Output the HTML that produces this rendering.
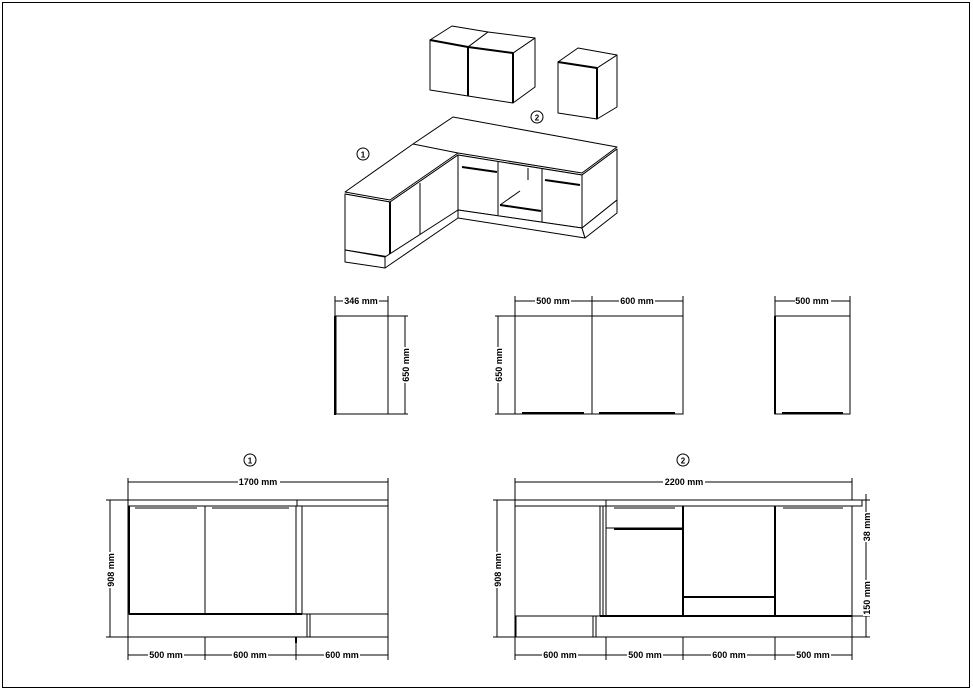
<!DOCTYPE html>
<html><head><meta charset="utf-8"><style>
html,body{margin:0;padding:0;background:#fff;}
svg{display:block;}
text{font-family:"Liberation Sans",sans-serif;font-size:9px;font-weight:bold;fill:#000;}
</style></head><body>
<svg width="973" height="692" viewBox="0 0 973 692" xmlns="http://www.w3.org/2000/svg">
<rect x="2.5" y="2.5" width="967" height="685" fill="none" stroke="#000" stroke-width="1"/>
<g fill="none" stroke="#000" stroke-width="1" stroke-linejoin="round">
<!-- upper pair -->
<polygon points="430,40 468,47 468,96 430,90" fill="#fff"/>
<polygon points="468,47 513,53 513,103 468,96" fill="#fff"/>
<polygon points="513,53 535,38 535,87 513,103" fill="#fff"/>
<polygon points="430,40 452,26 488,32 468,47" fill="#fff"/>
<polygon points="468,47 488,32 535,38 513,53" fill="#fff"/>
<line x1="430" y1="40" x2="468" y2="47" stroke-width="2"/>
<line x1="468" y1="47" x2="513" y2="53" stroke-width="2"/>
<line x1="468" y1="47" x2="468" y2="96" stroke-width="2"/>
<line x1="513" y1="53" x2="513" y2="103" stroke-width="2"/>
<!-- single upper -->
<polygon points="558,62 597,68 597,119 558,113" fill="#fff"/>
<polygon points="597,68 617,55 617,107 597,119" fill="#fff"/>
<polygon points="558,62 578,48 617,55 597,68" fill="#fff"/>
<line x1="558" y1="62" x2="597" y2="68" stroke-width="2"/>
<line x1="597" y1="68" x2="597" y2="119" stroke-width="2"/>
<!-- L counter -->
<polygon points="345,192 413,144 453,117 617,147 582,173 458,153 390,200" fill="#fff"/>
<line x1="413" y1="144" x2="458" y2="153"/>
<line x1="345" y1="194" x2="390" y2="202"/>
<line x1="390" y1="202" x2="458" y2="155"/>
<line x1="458" y1="155" x2="582" y2="175"/>
<line x1="582" y1="175" x2="617" y2="149"/>
<polygon points="345,194 390,202 390,257 345,250" fill="#fff"/>
<polygon points="345,250 385,257 385,268 345,262" fill="#fff"/>
<polygon points="390,202 458,155 458,210 390,257" fill="#fff"/>
<line x1="420" y1="183" x2="420" y2="236"/>
<line x1="390" y1="202" x2="390" y2="257" stroke-width="2"/>
<polygon points="385,257 458,210 458,218 385,268" fill="#fff"/>
<polygon points="458,155 582,175 582,228 458,210" fill="#fff"/>
<line x1="498" y1="162" x2="498" y2="215"/>
<line x1="542" y1="169" x2="542" y2="222"/>
<line x1="462" y1="167" x2="497" y2="172" stroke-width="2"/>
<line x1="545" y1="180" x2="580" y2="185" stroke-width="2"/>
<line x1="500" y1="205" x2="541" y2="211" stroke-width="2"/>
<line x1="500" y1="205" x2="520" y2="191"/>
<line x1="528" y1="168" x2="528" y2="180"/>
<polygon points="458,210 582,228 585,238 458,218" fill="#fff"/>
<polygon points="582,175 617,149 617,200 582,228" fill="#fff"/>
<polygon points="582,228 617,200 617,213 585,238" fill="#fff"/>
</g>
<!-- circles -->
<g fill="none" stroke="#000"><circle cx="363" cy="154" r="6"/><circle cx="537" cy="117" r="6"/><circle cx="250" cy="460" r="6"/><circle cx="683" cy="460" r="6"/></g>
<g font-size="8"><text x="363" y="157.5" text-anchor="middle" style="font-size:8px">1</text><text x="537" y="120.5" text-anchor="middle" style="font-size:8px">2</text><text x="250" y="463.5" text-anchor="middle" style="font-size:8px">1</text><text x="683" y="463.5" text-anchor="middle" style="font-size:8px">2</text></g>

<g fill="none" stroke="#000" stroke-width="1">
<!-- top elevation 1 -->
<path d="M335,296V316M388,296V316M335,301H388"/>
<rect x="336" y="316" width="52" height="98"/>
<line x1="335" y1="316" x2="335" y2="415" stroke-width="2"/>
<path d="M388,316H408M388,414H408M405,316V414"/>
<!-- top elevation 2 -->
<path d="M515,296V316M592,296V316M683,296V316M515,301H683"/>
<rect x="515" y="316" width="168" height="98"/>
<line x1="592" y1="316" x2="592" y2="414"/>
<path d="M495,316H515M495,414H515M498,316V414"/>
<path d="M522,413H584M599,413H675" stroke-width="2"/>
<!-- top elevation 3 -->
<path d="M775,296V316M850,296V316M775,301H850"/>
<rect x="775" y="316" width="75" height="98"/>
<line x1="775" y1="316" x2="775" y2="414" stroke-width="2"/>
<path d="M782,413H843" stroke-width="2"/>

<!-- bottom 1 -->
<path d="M128,478V500M388,478V500M128,482H388"/>
<rect x="128" y="500" width="260" height="6"/>
<line x1="297" y1="500" x2="297" y2="506"/>
<line x1="128" y1="506" x2="128" y2="637"/>
<line x1="388" y1="506" x2="388" y2="637"/>
<rect x="129" y="506" width="173" height="108" stroke-width="1"/>
<line x1="129" y1="506" x2="129" y2="614" stroke-width="2"/>
<line x1="129" y1="614" x2="302" y2="614" stroke-width="2"/>
<line x1="205" y1="506" x2="205" y2="614"/>
<line x1="296" y1="506" x2="296" y2="614"/>
<path d="M135,508H197M212,508H289"/>
<line x1="302" y1="614" x2="388" y2="614"/>
<line x1="128" y1="637" x2="388" y2="637"/>
<path d="M307,614V637M310,614V637"/>
<path d="M106,500H128M106,637H128M110,500V637"/>
<path d="M128,637V660M205,637V660M296,637V660M388,637V660M128,655H388"/>
<line x1="296" y1="637" x2="296" y2="643" stroke-width="2"/>

<!-- bottom 2 -->
<path d="M515,478V500M852,478V500M515,482H852"/>
<path d="M515,500H862V506H515Z"/>
<line x1="606" y1="500" x2="606" y2="506"/>
<line x1="515" y1="506" x2="515" y2="637"/>
<line x1="852" y1="506" x2="852" y2="637"/>
<path d="M600,506V616M603,506V616M606,506V616"/>
<line x1="683" y1="506" x2="683" y2="616" stroke-width="2"/>
<line x1="775" y1="506" x2="775" y2="616" stroke-width="2"/>
<path d="M614,508H675M783,508H843"/>
<line x1="606" y1="528" x2="683" y2="528"/>
<line x1="614" y1="529" x2="683" y2="529" stroke-width="2"/>
<line x1="683" y1="597" x2="775" y2="597" stroke-width="2"/>
<line x1="600" y1="616" x2="852" y2="616" stroke-width="2"/>
<line x1="515" y1="616" x2="600" y2="616"/>
<line x1="515" y1="637" x2="852" y2="637"/>
<path d="M516,616V637M593,616V637M596,616V637"/>
<path d="M493,500H515M493,637H515M497,500V637"/>
<path d="M852,500H870M852,616H870M852,637H870M866,494V637"/>
<path d="M515,637V660M606,637V660M683,637V660M775,637V660M852,637V660M515,655H852"/>
</g>
<!-- dim labels -->
<g>
<rect x="343" y="297" width="36" height="8" fill="#fff"/><text x="361" y="304" text-anchor="middle">346 mm</text>
<rect x="535" y="297" width="36" height="8" fill="#fff"/><text x="553" y="304" text-anchor="middle">500 mm</text>
<rect x="619" y="297" width="36" height="8" fill="#fff"/><text x="637" y="304" text-anchor="middle">600 mm</text>
<rect x="795" y="297" width="36" height="8" fill="#fff"/><text x="812" y="304" text-anchor="middle">500 mm</text>
<g transform="translate(408,365) rotate(-90)"><rect x="-18" y="-6" width="36" height="8" fill="#fff"/><text x="0" y="1" text-anchor="middle">650 mm</text></g>
<g transform="translate(501,365) rotate(-90)"><rect x="-18" y="-6" width="36" height="8" fill="#fff"/><text x="0" y="1" text-anchor="middle">650 mm</text></g>
<rect x="238" y="478" width="42" height="8" fill="#fff"/><text x="258" y="485" text-anchor="middle">1700 mm</text>
<rect x="663" y="478" width="42" height="8" fill="#fff"/><text x="684" y="485" text-anchor="middle">2200 mm</text>
<g transform="translate(113,570) rotate(-90)"><rect x="-18" y="-6" width="36" height="8" fill="#fff"/><text x="0" y="1" text-anchor="middle">908 mm</text></g>
<g transform="translate(500,570) rotate(-90)"><rect x="-18" y="-6" width="36" height="8" fill="#fff"/><text x="0" y="1" text-anchor="middle">908 mm</text></g>
<g transform="translate(869,527) rotate(-90)"><rect x="-15" y="-6" width="30" height="8" fill="#fff"/><text x="0" y="1" text-anchor="middle">38 mm</text></g>
<g transform="translate(869,598) rotate(-90)"><rect x="-18" y="-6" width="36" height="8" fill="#fff"/><text x="0" y="1" text-anchor="middle">150 mm</text></g>
<rect x="148" y="651" width="36" height="8" fill="#fff"/><text x="166" y="658" text-anchor="middle">500 mm</text>
<rect x="232" y="651" width="36" height="8" fill="#fff"/><text x="250" y="658" text-anchor="middle">600 mm</text>
<rect x="324" y="651" width="36" height="8" fill="#fff"/><text x="342" y="658" text-anchor="middle">600 mm</text>
<rect x="542" y="651" width="36" height="8" fill="#fff"/><text x="560" y="658" text-anchor="middle">600 mm</text>
<rect x="627" y="651" width="36" height="8" fill="#fff"/><text x="645" y="658" text-anchor="middle">500 mm</text>
<rect x="711" y="651" width="36" height="8" fill="#fff"/><text x="729" y="658" text-anchor="middle">600 mm</text>
<rect x="795" y="651" width="36" height="8" fill="#fff"/><text x="813" y="658" text-anchor="middle">500 mm</text>
</g>
</svg>
</body></html>
